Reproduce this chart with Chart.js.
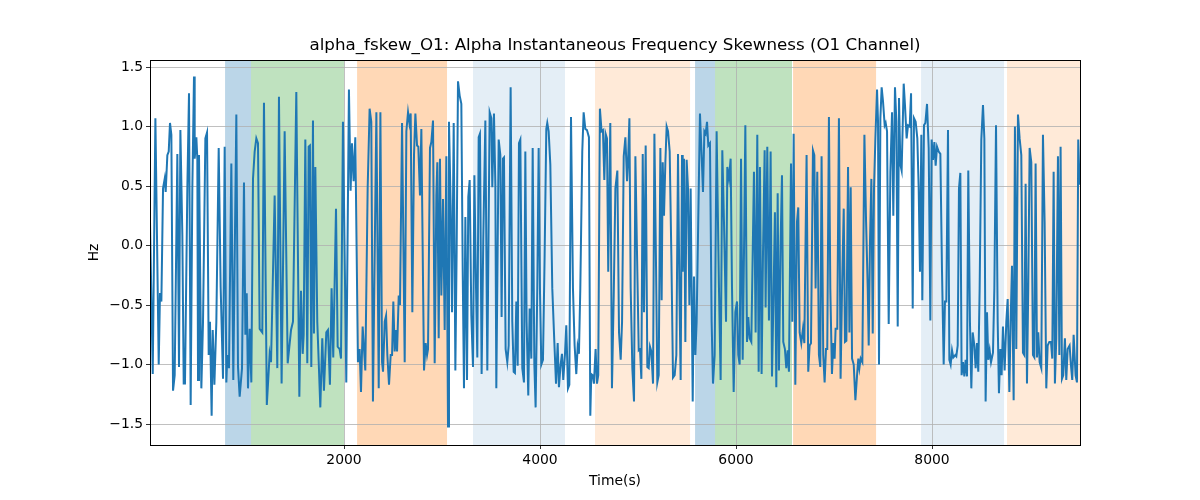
<!DOCTYPE html>
<html>
<head>
<meta charset="utf-8">
<title>alpha_fskew_O1</title>
<script src="https://cdn.jsdelivr.net/npm/chart.js@4/dist/chart.umd.min.js"></script>
<style>
    html, body { margin: 0; padding: 0; background: #ffffff; }
    #wrap { width: 1200px; height: 500px; }
</style>
</head>
<body>
<div id="wrap"><canvas id="chart" width="1200" height="500"></canvas></div>
<script>
// Signal (time in s, value in Hz)
const times = [
    20, 48, 75, 109, 122, 136, 153, 170, 180, 197, 211, 224, 238, 255, 272, 299, 316, 330, 350, 364,
    377, 401, 418, 435, 452, 469, 476, 493, 503, 510, 520, 544, 561, 585, 602, 619, 632, 649, 660, 677,
    697, 721, 741, 765, 782, 799, 809, 826, 850, 870, 901, 918, 935, 959, 979, 993, 1007, 1020, 1037, 1054,
    1071, 1088, 1105, 1122, 1139, 1166, 1183, 1212, 1241, 1255, 1292, 1319, 1336, 1363, 1394, 1425, 1459, 1479, 1513, 1544,
    1561, 1578, 1588, 1605, 1625, 1639, 1652, 1666, 1683, 1693, 1707, 1727, 1758, 1778, 1795, 1819, 1836, 1856, 1873, 1890,
    1918, 1935, 1955, 1969, 1989, 2023, 2050, 2067, 2081, 2098, 2115, 2142, 2159, 2173, 2190, 2217, 2241, 2261, 2278, 2295,
    2330, 2354, 2371, 2388, 2398, 2415, 2429, 2442, 2459, 2476, 2490, 2503, 2517, 2527, 2541, 2558, 2571, 2592, 2619, 2636,
    2653, 2667, 2680, 2697, 2714, 2728, 2745, 2758, 2775, 2789, 2816, 2833, 2847, 2857, 2877, 2891, 2908, 2925, 2942, 2952,
    2966, 2979, 2993, 3010, 3027, 3044, 3061, 3071, 3088, 3102, 3119, 3136, 3149, 3163, 3180, 3197, 3211, 3224, 3238, 3255,
    3268, 3282, 3299, 3316, 3330, 3347, 3360, 3374, 3387, 3404, 3421, 3442, 3462, 3486, 3503, 3513, 3530, 3544, 3554, 3578,
    3595, 3608, 3622, 3632, 3649, 3666, 3680, 3700, 3717, 3731, 3744, 3758, 3772, 3785, 3799, 3819, 3836, 3850, 3863, 3880,
    3894, 3911, 3925, 3942, 3955, 3972, 3986, 3999, 4013, 4030, 4047, 4064, 4074, 4088, 4105, 4125, 4146, 4163, 4180, 4193,
    4210, 4224, 4237, 4254, 4268, 4285, 4299, 4316, 4336, 4353, 4370, 4384, 4397, 4411, 4431, 4445, 4462, 4479, 4499, 4513,
    4523, 4537, 4550, 4567, 4581, 4594, 4611, 4628, 4642, 4656, 4669, 4683, 4696, 4717, 4734, 4752, 4769, 4789, 4806, 4823,
    4837, 4854, 4871, 4888, 4898, 4912, 4925, 4942, 4959, 4973, 4990, 5007, 5020, 5034, 5048, 5061, 5078, 5095, 5109, 5122,
    5136, 5153, 5167, 5184, 5197, 5211, 5228, 5241, 5252, 5265, 5279, 5292, 5306, 5323, 5340, 5357, 5374, 5391, 5408, 5422,
    5435, 5449, 5456, 5469, 5483, 5496, 5510, 5524, 5537, 5558, 5571, 5585, 5598, 5632, 5649, 5663, 5677, 5690, 5704, 5717,
    5734, 5751, 5765, 5782, 5802, 5826, 5843, 5860, 5877, 5898, 5911, 5928, 5945, 5959, 5976, 5993, 6010, 6023, 6037, 6051,
    6068, 6081, 6095, 6112, 6125, 6139, 6156, 6183, 6200, 6217, 6231, 6244, 6261, 6275, 6292, 6302, 6319, 6336, 6353, 6367,
    6384, 6397, 6411, 6425, 6438, 6455, 6469, 6482, 6499, 6513, 6527, 6540, 6561, 6574, 6588, 6605, 6622, 6635, 6649, 6666,
    6683, 6697, 6720, 6737, 6751, 6765, 6785, 6799, 6812, 6829, 6846, 6860, 6873, 6890, 6904, 6918, 6931, 6948, 6962, 6979,
    6992, 7006, 7016, 7033, 7050, 7067, 7082, 7099, 7112, 7126, 7143, 7157, 7170, 7184, 7201, 7218, 7235, 7248, 7259, 7272,
    7289, 7310, 7327, 7344, 7354, 7367, 7381, 7395, 7408, 7422, 7439, 7449, 7459, 7473, 7486, 7500, 7517, 7527, 7541, 7558,
    7575, 7592, 7605, 7622, 7636, 7650, 7663, 7677, 7690, 7711, 7724, 7741, 7755, 7772, 7786, 7803, 7816, 7833, 7850, 7864,
    7877, 7891, 7901, 7918, 7932, 7949, 7966, 7983, 7996, 8010, 8024, 8037, 8051, 8068, 8085, 8102, 8119, 8132, 8146, 8163,
    8177, 8190, 8204, 8217, 8238, 8248, 8262, 8275, 8289, 8302, 8316, 8330, 8343, 8357, 8370, 8387, 8401, 8415, 8432, 8445,
    8459, 8472, 8486, 8503, 8520, 8534, 8547, 8561, 8574, 8588, 8602, 8622, 8636, 8653, 8670, 8683, 8697, 8710, 8724, 8741,
    8758, 8772, 8789, 8802, 8816, 8833, 8846, 8860, 8877, 8894, 8911, 8928, 8942, 8955, 8969, 8982, 8996, 9013, 9030, 9044,
    9057, 9071, 9084, 9098, 9115, 9132, 9149, 9166, 9180, 9197, 9214, 9227, 9241, 9254, 9268, 9285, 9299, 9312, 9326, 9339,
    9356, 9370, 9384, 9404, 9418, 9431, 9445, 9465, 9479, 9492, 9506
];
const values = [
    0.2, -1.08, 1.07, -1.0, -0.4, -0.47, 0.48, 0.56, 0.45, 0.76, 0.79, 1.03, 0.93, -1.22, -1.09, 0.77, -1.02, 0.97, 0.09, -1.16,
    -1.16, 0.48, 1.28, -1.34, 0.48, 1.42, 0.73, 0.91, 0.73, -1.13, 0.76, -1.2, -0.64, 0.9, 0.95, -0.92, -0.64, -1.43, -0.71, -1.17,
    -0.64, 0.82, -0.35, -1.12, 0.83, -1.15, -0.92, -1.03, 0.69, -1.13, 1.1, -1.02, -1.27, -1.03, 0.53, -0.75, -0.4, -1.2, -0.7, -1.15,
    0.56, 0.79, 0.9, 0.86, -0.7, -0.73, 1.2, -1.34, -0.91, -0.98, 0.42, -1.03, 1.25, -1.16, 0.96, -0.99, -0.71, -0.64, 1.29, -1.27,
    -0.38, -0.91, -0.75, 0.89, -0.99, 0.83, 0.84, -1.02, 1.05, -0.74, 0.66, -0.64, -1.36, -0.78, -1.22, -0.73, -0.71, -1.17, -0.36, -0.94,
    0.31, -0.85, -0.87, -0.95, 1.04, -1.15, 1.31, 0.46, 0.86, 0.54, 0.91, -0.98, -0.87, -1.23, -0.68, -1.05, 0.48, 1.15, 1.04, -1.31,
    1.12, -1.2, 1.12, -0.98, -1.06, -0.64, -0.59, -0.92, -1.17, -0.92, -0.92, -0.47, -0.89, -0.71, -0.89, -0.42, -0.5, 1.03, -0.98, 0.96,
    1.12, 1.03, 1.11, -0.56, 0.76, 1.11, 0.84, 0.83, 0.42, 0.98, -1.05, -0.82, -0.92, -0.87, 0.82, 0.87, 1.05, -0.99, 0.42, 0.7,
    -0.78, 0.73, -0.42, 0.39, -0.71, 0.75, -1.52, 1.04, 0.34, -0.56, 1.03, -1.05, -0.05, 1.38, 1.26, 1.19, -0.22, -1.2, 0.24, -1.13,
    0.41, 0.55, -0.59, -1.02, 0.59, -0.36, -0.94, 0.91, 0.94, -1.08, 0.06, 1.05, -1.05, 1.12, 1.07, 0.49, 1.11, 0.51, -1.2, 0.89,
    0.76, -0.6, 0.73, 0.74, -0.87, -0.98, -0.84, 1.33, -0.64, -1.06, -1.07, -0.47, -1.01, 0.86, 0.89, -1.03, -1.15, 0.79, -0.64, -1.26,
    -0.53, -0.95, 0.82, -1.0, -1.36, -0.36, 0.82, -0.36, -1.0, -0.96, -0.08, 0.98, 1.03, 0.96, 0.68, -0.36, -0.81, -1.16, -0.82, -1.19,
    -1.0, -0.91, -1.13, -0.92, -0.67, -1.2, -1.17, 1.08, -0.36, -0.84, -1.08, -0.85, -0.91, -0.36, 0.79, 1.12, 0.98, 0.97, 0.91, -1.43,
    -1.08, -1.09, -1.16, -0.87, -1.16, -1.09, 1.15, 0.96, 0.97, 0.55, 0.94, 0.9, -0.22, 1.03, -1.2, -0.42, 0.48, 0.63, -0.73, -0.96,
    -0.64, 0.75, 0.91, 0.54, 0.7, 1.07, -0.36, -1.03, -1.31, 0.75, -0.08, -0.88, -0.87, -1.12, 0.77, -0.56, 0.84, -1.02, -1.03, -0.85,
    -0.89, -1.16, 0.94, -0.19, -1.15, -1.09, 0.82, -0.46, 0.7, 0.25, 0.7, 1.0, 0.96, 0.79, -0.08, -1.11, -1.09, -0.92, 0.77, -0.36,
    -1.13, 0.76, -0.22, 0.73, -0.81, 0.72, 0.48, -0.5, 0.48, -1.31, -0.26, -0.92, -0.64, 1.11, 0.76, 0.45, 0.96, 0.94, 1.04, 0.84,
    0.86, -0.64, -1.16, -0.92, 0.96, -0.36, -1.13, 0.8, 0.2, -0.64, 0.66, 0.56, 0.73, -0.36, -1.23, -0.56, -0.47, -0.92, -1.0, 0.73,
    -0.96, -0.08, 1.01, -0.81, -0.6, -0.78, -0.81, 0.62, -0.73, 0.93, -1.06, 0.66, -1.08, -0.08, 0.8, -0.52, 0.83, -0.63, 0.79, -1.1,
    -0.36, 0.28, -1.19, 0.44, -1.05, 0.03, 0.59, -0.81, -0.87, -1.03, -0.88, -1.06, 0.69, -0.64, 0.94, -1.17, 0.2, 0.32, -0.73, -0.82,
    -0.7, -0.82, 0.76, -1.06, -0.84, -0.82, 0.8, 0.76, -0.36, 0.62, -0.92, -1.02, 0.75, -0.92, -1.15, -0.87, -0.87, 1.08, -0.36, -1.08,
    -0.82, -0.95, -0.7, -0.7, 1.07, -1.12, -0.36, 0.31, -0.81, -0.8, 0.66, -0.73, 0.49, -0.95, -1.0, -1.3, -1.09, -0.95, -1.03, -0.95,
    -0.98, 0.93, 0.2, -0.36, -0.84, 0.03, 0.56, -0.74, 0.48, 0.9, 1.31, 1.04, -1.0, 1.07, 1.33, 1.21, 1.01, 1.03, 0.96, -0.66,
    0.62, 1.12, 0.25, 1.33, 1.04, -0.68, 1.24, 0.68, 0.63, 1.36, 1.18, 0.9, 1.01, 1.0, 1.28, -0.53, 1.07, 1.04, 0.9, 0.48,
    -0.22, 0.93, -0.46, 1.01, 1.03, 1.19, 0.82, -0.63, 0.89, 0.72, 0.87, 0.67, 0.83, 0.79, 0.77, -0.22, -1.0, -0.47, -0.47, 0.97,
    -0.96, -1.0, -0.88, -0.94, -0.92, -0.93, -0.84, 0.48, 0.61, -1.09, -0.98, -1.1, -0.96, -1.1, 0.63, -0.64, -1.2, -0.73, -0.84, -1.03,
    -0.82, -1.06, -0.36, 0.89, 1.18, 0.9, -1.31, -0.56, -0.96, -0.88, -0.98, -0.9, -0.36, 1.01, -0.64, -1.24, -0.87, -1.09, -0.68, -1.05,
    -0.64, -0.45, -1.23, -0.64, -0.17, -1.3, 1.0, -0.87, 1.1, 0.9, 0.76, -0.9, -0.92, 0.52, -1.16, -0.36, 0.82, 0.7, -0.92, -0.94,
    0.69, -0.94, -0.73, -0.98, -1.03, 0.93, 0.2, -1.2, -0.84, -0.81, -0.81, -0.95, 0.62, -1.16, -0.78, 0.75, -0.92, 0.83, -1.12, -1.09,
    -0.78, -1.13, -0.87, -0.84, -1.01, -1.13, -0.75, -1.09, -1.15, 0.89, 0.51
];

// Shaded spans
const spanStarts = [786, 1051, 2133, 3316, 4561, 5582, 5786, 6582, 7888, 8765];
const spanEnds   = [1051, 2000, 3051, 4255, 5531, 5786, 6571, 7429, 8735, 9510];
const spanColors = [
    'rgba(31,119,180,0.3)', 'rgba(44,160,44,0.3)', 'rgba(255,127,14,0.3)',
    'rgba(31,119,180,0.12)', 'rgba(255,127,14,0.16)',
    'rgba(31,119,180,0.3)', 'rgba(44,160,44,0.3)', 'rgba(255,127,14,0.3)',
    'rgba(31,119,180,0.12)', 'rgba(255,127,14,0.16)'
];

const xTicks = [2000, 4000, 6000, 8000];
const yTicks = [-1.5, -1.0, -0.5, 0.0, 0.5, 1.0, 1.5];

const FONT = 'DejaVu Sans';

// Draw spans under the grid, frame and texts on top
const decorPlugin = {
    id: 'decor',
    beforeDraw(chart) {
        const { ctx, chartArea: a, scales: { x } } = chart;
        ctx.save();
        ctx.fillStyle = '#ffffff';
        ctx.fillRect(0, 0, chart.width, chart.height);
        for (let i = 0; i < spanStarts.length; i++) {
            const x0 = Math.max(x.getPixelForValue(spanStarts[i]), a.left);
            const x1 = Math.min(x.getPixelForValue(spanEnds[i]), a.right);
            ctx.fillStyle = spanColors[i];
            ctx.fillRect(x0, a.top, x1 - x0, a.bottom - a.top);
        }
        ctx.restore();
    },
    afterDraw(chart) {
        const { ctx, chartArea: a } = chart;
        ctx.save();
        ctx.strokeStyle = '#000000';
        ctx.lineWidth = 1;
        ctx.strokeRect(Math.round(a.left) + 0.5, Math.round(a.top) + 0.5,
            Math.round(a.right - a.left), Math.round(a.bottom - a.top));
        const cx = (a.left + a.right) / 2;
        ctx.fillStyle = '#000000';
        ctx.textAlign = 'center';
        ctx.textBaseline = 'middle';
        ctx.font = '16.7px "' + FONT + '"';
        ctx.fillText('alpha_fskew_O1: Alpha Instantaneous Frequency Skewness (O1 Channel)', cx, 46);
        ctx.font = '13.9px "' + FONT + '"';
        ctx.fillText('Time(s)', cx, 481);
        ctx.translate(94, (a.top + a.bottom) / 2);
        ctx.rotate(-Math.PI / 2);
        ctx.fillText('Hz', 0, 0);
        ctx.restore();
    }
};

const ctx = document.getElementById('chart').getContext('2d');
new Chart(ctx, {
    type: 'line',
    data: {
        datasets: [{
            data: times.map((t, i) => ({ x: t, y: values[i] })),
            borderColor: '#1f77b4',
            borderWidth: 2,
            pointRadius: 0,
            tension: 0,
            fill: false
        }]
    },
    options: {
        responsive: false,
        animation: false,
        events: [],
        layout: { padding: { left: 0, right: 120, top: 60, bottom: 0 } },
        plugins: {
            legend: { display: false },
            title: { display: false },
            tooltip: { enabled: false }
        },
        scales: {
            x: {
                type: 'linear',
                min: 20,
                max: 9510,
                afterBuildTicks: s => { s.ticks = xTicks.map(v => ({ value: v })); },
                afterFit: s => { s.height = 55; },
                grid: { color: '#b0b0b0', lineWidth: 0.8, tickColor: '#000000', tickLength: 4, drawOnChartArea: true },
                border: { display: false },
                ticks: {
                    color: '#000000', padding: 3, maxRotation: 0,
                    font: { family: FONT, size: 13.9 },
                    callback: v => String(v)
                }
            },
            y: {
                min: -1.676,
                max: 1.559,
                afterBuildTicks: s => { s.ticks = yTicks.map(v => ({ value: v })); },
                afterFit: s => { s.width = 150; },
                grid: { color: '#b0b0b0', lineWidth: 0.8, tickColor: '#000000', tickLength: 4 },
                border: { display: false },
                ticks: {
                    color: '#000000', padding: 3,
                    font: { family: FONT, size: 13.9 },
                    callback: v => v.toFixed(1).replace('-', '\u2212')
                }
            }
        }
    },
    plugins: [decorPlugin]
});
</script>
</body>
</html>
